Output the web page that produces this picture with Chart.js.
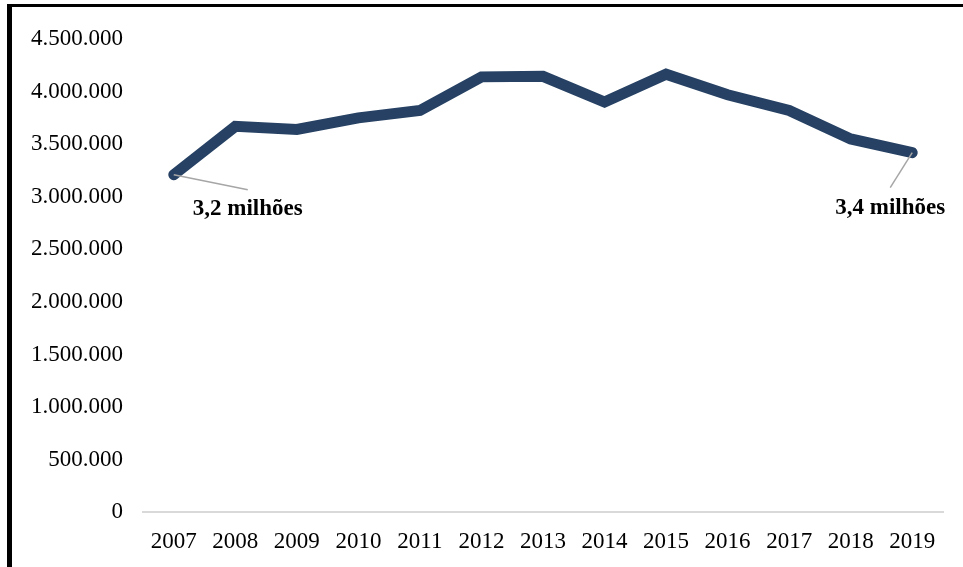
<!DOCTYPE html>
<html>
<head>
<meta charset="utf-8">
<script src="https://cdn.jsdelivr.net/npm/chart.js@4/dist/chart.umd.min.js"></script>
<style>
  body { margin: 0; background: #fff; }
  #moldura { position: absolute; left: 7px; top: 4px; width: 1000px; height: 600px;
             border-left: 5px solid #000; border-top: 3px solid #000; }
  #wrap { position: absolute; left: 0; top: 0; width: 963px; height: 567px; }
</style>
</head>
<body>
<div id="moldura"></div>
<div id="wrap"><canvas id="grafico" width="963" height="567"></canvas></div>
<script>
// Dados
const anos = ['2007', '2008', '2009', '2010', '2011', '2012', '2013', '2014', '2015', '2016', '2017', '2018', '2019'];
const valores = [3210000, 3670000, 3640000, 3750000, 3820000, 4140000, 4145000, 3900000, 4165000, 3970000, 3820000, 3550000, 3420000];
const rotulos = [
    { indice: 0, texto: '3,2 milhões' },
    { indice: 12, texto: '3,4 milhões' }
];

// posição dos rótulos em relação ao ponto (linha guia + texto)
const posRotulos = [
    { dx: 74, guiaDy: 15, textoDy: 34 },
    { dx: -22, guiaDy: 35, textoDy: 55 }
];

const fonte = '"Liberation Serif", "Times New Roman", serif';

// Plugin para desenhar os rótulos com linha guia
const rotulosPlugin = {
    id: 'rotulos',
    afterDatasetsDraw(chart) {
        const ctx = chart.ctx;
        const meta = chart.getDatasetMeta(0);
        rotulos.forEach((r, i) => {
            const p = meta.data[r.indice];
            const pos = posRotulos[i];
            ctx.save();
            ctx.strokeStyle = '#a6a6a6';
            ctx.lineWidth = 1.5;
            ctx.beginPath();
            ctx.moveTo(p.x, p.y);
            ctx.lineTo(p.x + pos.dx, p.y + pos.guiaDy);
            ctx.stroke();
            ctx.fillStyle = '#000';
            ctx.font = 'bold 23px ' + fonte;
            ctx.textAlign = 'center';
            ctx.textBaseline = 'middle';
            ctx.fillText(r.texto, p.x + pos.dx, p.y + pos.textoDy);
            ctx.restore();
        });
    }
};

const ctx = document.getElementById('grafico').getContext('2d');
const grafico = new Chart(ctx, {
    type: 'line',
    data: {
        labels: anos,
        datasets: [{
            data: valores,
            borderColor: '#264163',
            borderWidth: 11,
            borderCapStyle: 'round',
            borderJoinStyle: 'miter',
            pointRadius: 0,
            tension: 0,
            fill: false
        }]
    },
    options: {
        responsive: false,
        animation: false,
        layout: { padding: { top: 39, right: 20, bottom: 3, left: 0 } },
        plugins: {
            legend: { display: false },
            tooltip: { enabled: false }
        },
        scales: {
            x: {
                offset: true,
                grid: { display: false },
                border: { color: '#d9d9d9', width: 2 },
                ticks: { color: '#000', font: { family: fonte, size: 23 }, padding: 8, maxRotation: 0 }
            },
            y: {
                min: 0,
                max: 4500000,
                grid: { display: false },
                border: { display: false },
                afterFit(scale) { scale.width = 143; },
                ticks: {
                    stepSize: 500000,
                    color: '#000',
                    padding: 12,
                    font: { family: fonte, size: 23 },
                    callback: v => v.toLocaleString('pt-BR')
                }
            }
        }
    },
    plugins: [rotulosPlugin]
});
</script>
</body>
</html>
